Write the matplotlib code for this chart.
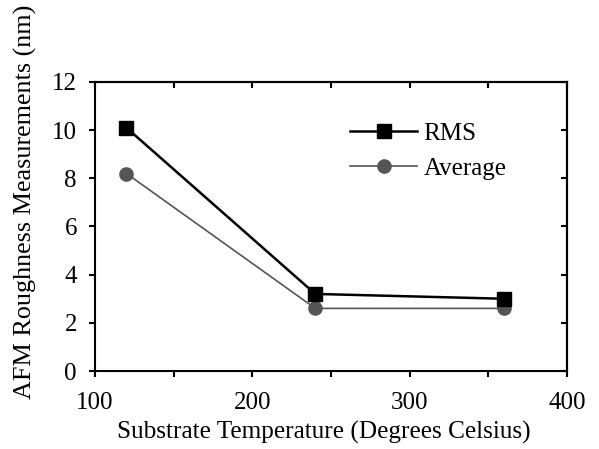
import matplotlib
matplotlib.use("Agg")
import matplotlib.pyplot as plt
from matplotlib.ticker import MultipleLocator

temps = [120, 240, 360]
rms = [10.1, 3.2, 3.0]
avg = [8.2, 2.6, 2.6]

plt.rcParams['font.family'] = ['Liberation Serif', 'DejaVu Serif']
fig = plt.figure(figsize=(5.99, 4.49), dpi=100)
ax = fig.add_axes([0.1586, 0.1737, 0.788, 0.6437])

ax.plot(temps, rms, color='black', lw=1.8, marker='s', ms=9.5, label='RMS', zorder=3)
ax.plot(temps, avg, color='#555555', lw=1.2, marker='o', ms=9.5, label='Average', zorder=2)

ax.set_xlim(100, 400)
ax.set_ylim(0, 12)
ax.xaxis.set_major_locator(MultipleLocator(100))
ax.xaxis.set_minor_locator(MultipleLocator(50))
ax.yaxis.set_major_locator(MultipleLocator(2))
ax.tick_params(which='both', direction='out', labelsize=18, width=1.5, length=4)
ax.tick_params(axis='x', which='major', pad=11)
ax.tick_params(axis='y', which='major', pad=9)
for s in ax.spines.values():
    s.set_linewidth(1.5)

# top and right ticks pointing inward
secx = ax.secondary_xaxis('top')
secx.xaxis.set_major_locator(MultipleLocator(100))
secx.xaxis.set_minor_locator(MultipleLocator(50))
secx.tick_params(which='both', direction='in', length=4, width=1.5, labeltop=False)
secx.spines['top'].set_linewidth(1.5)
secy = ax.secondary_yaxis('right')
secy.yaxis.set_major_locator(MultipleLocator(2))
secy.tick_params(which='both', direction='in', length=4, width=1.5, labelright=False)
secy.spines['right'].set_linewidth(1.5)

ax.set_xlabel('Substrate Temperature (Degrees Celsius)', fontsize=18.15, labelpad=5)
ax.xaxis.label.set_x(0.484)
ax.set_ylabel('AFM Roughness Measurements (nm)', fontsize=18.8)
ax.yaxis.set_label_coords(-0.123, 0.585)

ax.legend(loc='upper left', bbox_to_anchor=(0.54, 0.861), frameon=False, fontsize=18,
          handlelength=2.7, handletextpad=0.25, labelspacing=0.5, borderpad=0, borderaxespad=0)

fig.savefig('out.png', dpi=100)
